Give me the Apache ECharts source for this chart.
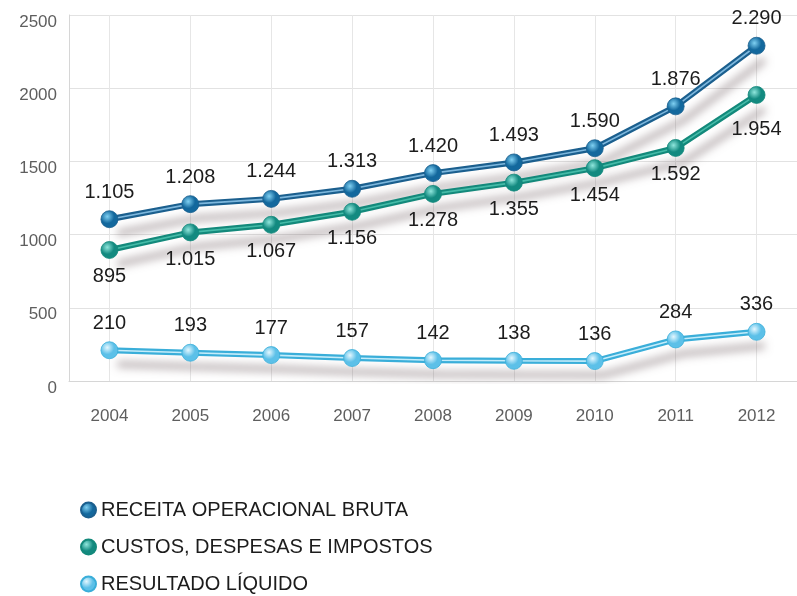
<!DOCTYPE html>
<html>
<head>
<meta charset="utf-8">
<script src="https://cdn.jsdelivr.net/npm/echarts@6/dist/echarts.min.js"></script>
<style>
  html, body { margin: 0; padding: 0; background: #fff; }
  #chart { width: 797px; height: 596px; }
</style>
</head>
<body>
<div id="chart"></div>
<script>
// Years on the horizontal axis
const years = ['2004', '2005', '2006', '2007', '2008', '2009', '2010', '2011', '2012'];

// Series names (legend)
const nameReceita = 'RECEITA OPERACIONAL BRUTA';
const nameCustos = 'CUSTOS, DESPESAS E IMPOSTOS';
const nameResultado = 'RESULTADO LÍQUIDO';

// Values (R$ milhões)
const receita = [1105, 1208, 1244, 1313, 1420, 1493, 1590, 1876, 2290];
const custos = [895, 1015, 1067, 1156, 1278, 1355, 1454, 1592, 1954];
const resultado = [210, 193, 177, 157, 142, 138, 136, 284, 336];

// Vertical axis ticks
const yTicks = [0, 500, 1000, 1500, 2000, 2500];

// Brazilian thousands separator: 1105 -> "1.105"
function fmt(v) {
  return String(v).replace(/\B(?=(\d{3})+(?!\d))/g, '.');
}

function sphere(light, dark) {
  return {
    type: 'radial', x: 0.38, y: 0.35, r: 0.7,
    colorStops: [
      { offset: 0, color: light },
      { offset: 0.55, color: dark },
      { offset: 1, color: dark }
    ]
  };
}

const styles = [
  { name: nameReceita, data: receita, base: '#1b5f8e', hi: '#7db7dd',
    ball: sphere('#7fd0f2', '#13689d'), labelPos: 'top' },
  { name: nameCustos, data: custos, base: '#13897b', hi: '#45bba8',
    ball: sphere('#8fe6dc', '#138a80'), labelPos: 'bottom' },
  { name: nameResultado, data: resultado, base: '#3aaed9', hi: '#c4ecfa',
    ball: sphere('#e3f7ff', '#5cc0e8'), labelPos: 'top' }
];

const series = [];

// shadowed tube body of each line
styles.forEach(function (s) {
  series.push({
    type: 'line', data: s.data, symbol: 'none', silent: true, z: 2,
    lineStyle: {
      color: s.base, width: 6,
      shadowColor: 'rgba(110, 92, 95, 0.5)', shadowBlur: 9,
      shadowOffsetX: 8, shadowOffsetY: 14
    }
  });
});

// light highlight running down the middle of each tube
styles.forEach(function (s) {
  series.push({
    type: 'line', data: s.data, symbol: 'none', silent: true, z: 3,
    lineStyle: { color: s.hi, width: 1.6 }
  });
});

// spheres and value labels
styles.forEach(function (s, i) {
  const data = s.data.map(function (v, j) {
    const item = { value: v };
    // the last cost label sits a little lower, clear of the revenue line
    if (i === 1 && j === s.data.length - 1) item.label = { offset: [0, 8] };
    return item;
  });
  series.push({
    name: s.name, type: 'line', data: data, z: 4,
    symbol: 'circle', symbolSize: 17, showSymbol: true,
    lineStyle: { width: 0, opacity: 0 },
    itemStyle: { color: s.ball, borderColor: s.base, borderWidth: 0.8 },
    label: {
      show: true, position: s.labelPos, distance: 8,
      color: '#1c1c1c', fontSize: 20, fontFamily: 'Liberation Sans',
      formatter: function (p) { return fmt(p.value); }
    },
    emphasis: { disabled: true }
  });
});

const chart = echarts.init(document.getElementById('chart'), null, { renderer: 'canvas' });
chart.setOption({
  backgroundColor: '#ffffff',
  animation: false,
  grid: { left: 69, top: 15, width: 731, height: 366, containLabel: false },
  xAxis: {
    type: 'category', data: years, boundaryGap: true,
    axisLine: { show: true, lineStyle: { color: '#d6d6d6', width: 1 } },
    axisTick: { show: false },
    axisLabel: { color: '#5e5e5e', fontSize: 17, fontFamily: 'Liberation Sans', margin: 27 },
    splitLine: { show: true, alignWithLabel: true, lineStyle: { color: '#e6e6e6', width: 1 } }
  },
  yAxis: {
    type: 'value', min: yTicks[0], max: yTicks[yTicks.length - 1], interval: 500,
    axisLine: { show: true, lineStyle: { color: '#d6d6d6', width: 1 } },
    axisTick: { show: false },
    axisLabel: { color: '#5e5e5e', fontSize: 17, fontFamily: 'Liberation Sans', margin: 12,
                 verticalAlign: 'top', lineHeight: 14,
                 formatter: function (v) { return String(v); } },
    splitLine: { show: true, lineStyle: { color: '#e2e2e2', width: 1 } }
  },
  legend: {
    data: [nameReceita, nameCustos, nameResultado],
    orient: 'vertical', left: 80, top: 500, height: 96, padding: 0,
    icon: 'circle', itemWidth: 15, itemHeight: 15, itemGap: 17,
    selectedMode: false,
    textStyle: { color: '#1c1c1c', fontSize: 20, lineHeight: 20, fontFamily: 'Liberation Sans' }
  },
  series: series
});
</script>
</body>
</html>
